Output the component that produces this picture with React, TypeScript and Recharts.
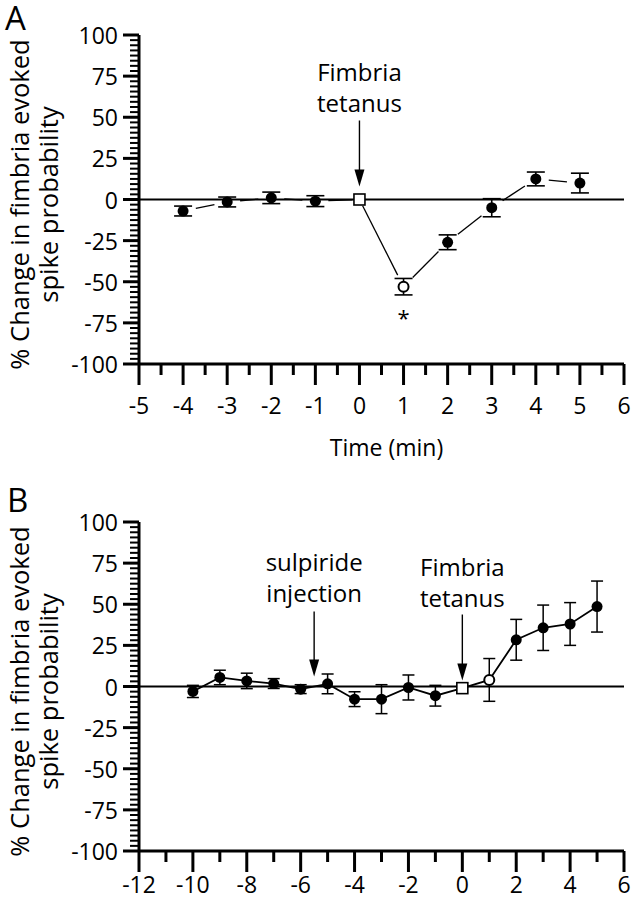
import React from 'react';
import { LineChart, Line, XAxis, YAxis, ErrorBar, ReferenceLine, ReferenceDot } from 'recharts';

const FONT = '"Open Sans", "DejaVu Sans", sans-serif';

// Panel A: fimbria tetanus alone
const TIME_A = [-4, -3, -2, -1, 0, 1, 2, 3, 4, 5];
const MEAN_A = [-7, -1.5, 1, -1, 0, -53, -26, -5, 12.5, 10];
const SEM_A = [3, 3, 3.5, 3.3, null, 5, 4.5, 5.5, 4.2, 6];
const STAR_A = [1];

// Panel B: sulpiride injection, then fimbria tetanus
const TIME_B = [-10, -9, -8, -7, -6, -5, -4, -3, -2, -1, 0, 1, 2, 3, 4, 5];
const MEAN_B = [-3, 5.5, 3.4, 1.8, -1.6, 1.6, -7.7, -7.7, -0.6, -5.6, -1, 4, 28.4, 35.7, 38, 48.6];
const SEM_B = [3.7, 4.4, 4.7, 3, 2.7, 6, 4.5, 8.8, 7.6, 6.3, null, 13, 12.4, 13.8, 13, 15.5];

const Y_MAJOR = [-100, -75, -50, -25, 0, 25, 50, 75, 100];
const X_MAJOR_A = [-5, -4, -3, -2, -1, 0, 1, 2, 3, 4, 5, 6];
const X_MAJOR_B = [-12, -10, -8, -6, -4, -2, 0, 2, 4, 6];

const TETANUS_T = 0; // open square
const FIRST_POST_T = 1; // open circle
const SULPIRIDE_T = -5.5;

// add minor ticks between the major ones
const subdivide = (major: number[], parts: number) =>
  major.flatMap((v, i) =>
    i === 0 ? [v] : Array.from({ length: parts }, (_, k) => major[i - 1] + ((v - major[i - 1]) * (k + 1)) / parts)
  );

const Y_TICKS = subdivide(Y_MAJOR, 8);

const toRows = (t: number[], mean: number[], sem: (number | null)[]) =>
  t.map((v, i) => ({ t: v, mean: mean[i], sem: sem[i] }));

const DATA_A = toRows(TIME_A, MEAN_A, SEM_A);
const DATA_B = toRows(TIME_B, MEAN_B, SEM_B);

const YTick = ({ x, y, payload }: any) => {
  const major = Y_MAJOR.includes(payload.value);
  const len = major ? 16 : 9;
  return (
    <g>
      <line x1={x} x2={x - len} y1={y} y2={y} stroke="#000" strokeWidth={major ? 3 : 2} />
      {major && (
        <text x={x - len - 5} y={y} textAnchor="end" dominantBaseline="central" fontSize={23} fontFamily={FONT} fill="#000">
          {payload.value}
        </text>
      )}
    </g>
  );
};

const makeXTick = (majors: number[], labelDy: number) => ({ x, y, payload }: any) => {
  const major = majors.includes(payload.value);
  const len = major ? 21 : 11;
  return (
    <g>
      <line x1={x} x2={x} y1={y} y2={y + len} stroke="#000" strokeWidth={3} />
      {major && (
        <text x={x} y={y + labelDy} textAnchor="middle" dominantBaseline="central" fontSize={23} fontFamily={FONT} fill="#000">
          {payload.value}
        </text>
      )}
    </g>
  );
};

const YTitle = ({ viewBox }: any) => {
  const cy = viewBox.y + viewBox.height / 2 + 5;
  return (
    <g fontFamily={FONT} fontSize={25.5} fill="#000">
      <text x={19} y={cy} textAnchor="middle" dominantBaseline="central" transform={`rotate(-90, 19, ${cy})`}>
        % Change in fimbria evoked
      </text>
      <text x={48} y={cy} textAnchor="middle" dominantBaseline="central" transform={`rotate(-90, 48, ${cy})`}>
        spike probability
      </text>
    </g>
  );
};

// dot renderer: markers, and (for panel A) connecting segments that stop short of each marker
const makeDot = (gap: number, r: number, stars: number[]) => (props: any) => {
  const { cx, cy, index, payload, points } = props;
  if (cx == null || cy == null) return <g key={`d${index}`} />;
  const t = payload.t;
  let seg = null;
  if (gap > 0 && points && index < points.length - 1) {
    const nx = points[index + 1].x;
    const ny = points[index + 1].y;
    const dx = nx - cx;
    const dy = ny - cy;
    const len = Math.sqrt(dx * dx + dy * dy);
    const g0 = t === TETANUS_T ? 7 : gap;
    const g1 = points[index + 1].payload?.t === TETANUS_T ? 7 : gap;
    if (len > g0 + g1) {
      seg = (
        <line
          x1={cx + (dx / len) * g0}
          y1={cy + (dy / len) * g0}
          x2={nx - (dx / len) * g1}
          y2={ny - (dy / len) * g1}
          stroke="#000"
          strokeWidth={1.3}
        />
      );
    }
  }
  let marker;
  if (t === TETANUS_T) {
    marker = <rect x={cx - 5.5} y={cy - 5.5} width={11} height={11} fill="#fff" stroke="#000" strokeWidth={1.6} />;
  } else if (t === FIRST_POST_T) {
    marker = <circle cx={cx} cy={cy} r={r - 0.5} fill="#fff" stroke="#000" strokeWidth={2} />;
  } else {
    marker = <circle cx={cx} cy={cy} r={r} fill="#000" />;
  }
  return (
    <g key={`d${index}`}>
      {seg}
      {marker}
      {stars.includes(t) && (
        <text x={cx} y={cy + 30} textAnchor="middle" dominantBaseline="central" fontSize={22} fontFamily={FONT} fill="#000">
          *
        </text>
      )}
    </g>
  );
};

const makeArrow = (lines: string[], tipDy: number, topDy: number, textDy: number) => (props: any) => {
  const { cx, cy } = props;
  if (cx == null || cy == null) return <g />;
  const tip = cy + tipDy;
  return (
    <g fontFamily={FONT} fontSize={24} fill="#000">
      <line x1={cx} x2={cx} y1={cy + topDy} y2={tip - 12} stroke="#000" strokeWidth={1.4} />
      <path d={`M ${cx - 5} ${tip - 17} L ${cx + 5} ${tip - 17} L ${cx} ${tip} Z`} fill="#000" />
      {lines.map((s, i) => (
        <text key={s} x={cx} y={cy + textDy + i * 31} textAnchor="middle" dominantBaseline="central">
          {s}
        </text>
      ))}
    </g>
  );
};

const PanelLetter = ({ letter, top, left }: { letter: string; top: number; left: number }) => (
  <div style={{ position: 'absolute', top, left, fontFamily: FONT, fontSize: 33, lineHeight: '36px', color: '#000' }}>
    {letter}
  </div>
);

export default function App() {
  return (
    <div style={{ position: 'absolute', left: 0, top: 0, width: 637, height: 900, background: '#fff', overflow: 'hidden' }}>
      {/* Panel A */}
      <div style={{ position: 'absolute', left: 0, top: 0 }}>
        <LineChart width={637} height={475} data={DATA_A} margin={{ top: 35, right: 13, left: 0, bottom: 0 }}>
          <XAxis
            type="number"
            dataKey="t"
            domain={[-5, 6]}
            ticks={subdivide(X_MAJOR_A, 2)}
            interval={0}
            tickSize={0}
            tickMargin={0}
            tickLine={false}
            tick={makeXTick(X_MAJOR_A, 41)}
            axisLine={{ stroke: '#000', strokeWidth: 3 }}
            height={111}
            label={(p: any) => {
              const vb = p.viewBox;
              return (
                <text x={vb.x + vb.width / 2 + 5} y={447} textAnchor="middle" dominantBaseline="central" fontSize={23} fontFamily={FONT} fill="#000">
                  Time (min)
                </text>
              );
            }}
          />
          <YAxis
            type="number"
            domain={[-100, 100]}
            ticks={Y_TICKS}
            interval={0}
            tickSize={0}
            tickMargin={0}
            tickLine={false}
            tick={YTick}
            axisLine={{ stroke: '#000', strokeWidth: 3 }}
            width={139}
            label={<YTitle />}
          />
          <ReferenceLine y={0} stroke="#000" strokeWidth={1.8} />
          <ReferenceDot x={TETANUS_T} y={0} r={0} shape={makeArrow(['Fimbria', 'tetanus'], -13, -79, -128)} />
          <Line
            type="linear"
            dataKey="mean"
            stroke="none"
            isAnimationActive={false}
            dot={makeDot(13, 5.5, STAR_A)}
            activeDot={false}
          >
            <ErrorBar dataKey="sem" width={9} stroke="#000" strokeWidth={1.6} direction="y" />
          </Line>
        </LineChart>
      </div>

      {/* Panel B */}
      <div style={{ position: 'absolute', left: 0, top: 487 }}>
        <LineChart width={637} height={413} data={DATA_B} margin={{ top: 35, right: 13, left: 0, bottom: 0 }}>
          <XAxis
            type="number"
            dataKey="t"
            domain={[-12, 6]}
            ticks={subdivide(X_MAJOR_B, 2)}
            interval={0}
            tickSize={0}
            tickMargin={0}
            tickLine={false}
            tick={makeXTick(X_MAJOR_B, 33)}
            axisLine={{ stroke: '#000', strokeWidth: 3 }}
            height={49}
          />
          <YAxis
            type="number"
            domain={[-100, 100]}
            ticks={Y_TICKS}
            interval={0}
            tickSize={0}
            tickMargin={0}
            tickLine={false}
            tick={YTick}
            axisLine={{ stroke: '#000', strokeWidth: 3 }}
            width={139}
            label={<YTitle />}
          />
          <ReferenceLine y={0} stroke="#000" strokeWidth={1.8} />
          <ReferenceDot x={SULPIRIDE_T} y={0} r={0} shape={makeArrow(['sulpiride', 'injection'], -10, -75, -125)} />
          <ReferenceDot x={TETANUS_T} y={0} r={0} shape={makeArrow(['Fimbria', 'tetanus'], -6, -72, -120)} />
          <Line
            type="linear"
            dataKey="mean"
            stroke="#000"
            strokeWidth={1.8}
            isAnimationActive={false}
            dot={makeDot(0, 5.5, [])}
            activeDot={false}
          >
            <ErrorBar dataKey="sem" width={6} stroke="#000" strokeWidth={1.5} direction="y" />
          </Line>
        </LineChart>
      </div>

      <PanelLetter letter="A" top={0} left={5} />
      <PanelLetter letter="B" top={482} left={7} />
    </div>
  );
}
